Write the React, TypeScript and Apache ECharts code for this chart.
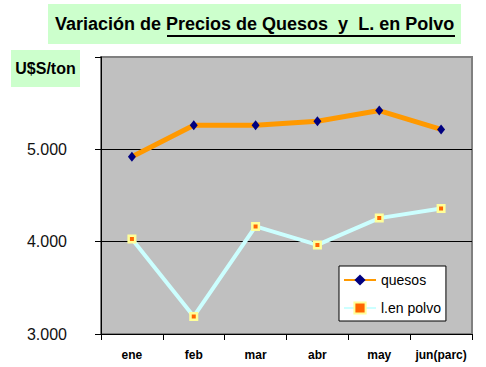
import React, { useEffect, useRef } from "react";
import * as echarts from "echarts";

const categories = ["ene", "feb", "mar", "abr", "may", "jun(parc)"];
const quesos = [4920, 5260, 5260, 5305, 5420, 5215];
const lenPolvo = [4030, 3190, 4165, 3965, 4255, 4360];
const yTicks = [3000, 4000, 5000, 6000];

export default function App() {
  const ref = useRef<HTMLDivElement>(null);
  useEffect(() => {
    const chart = echarts.init(ref.current!, null, { renderer: "svg" });
    const font = "Liberation Sans, Arial, sans-serif";
    chart.setOption({
      animation: false,
      backgroundColor: "#ffffff",
      textStyle: { fontFamily: font },
      grid: {
        left: 101,
        right: 14,
        top: 57,
        bottom: 33,
        show: true,
        backgroundColor: "#c0c0c0",
        borderColor: "#808080",
        borderWidth: 2,
      },
      graphic: [
        { type: "rect", shape: { x: 48, y: 4, width: 413, height: 40 }, style: { fill: "#ccffcc" }, z: 0 },
        {
          type: "text",
          x: 55,
          y: 24,
          style: {
            text: "Variación de Precios de Quesos  y  L. en Polvo",
            font: "bold 18px " + font,
            fill: "#000",
            textVerticalAlign: "middle",
          },
          z: 1,
        },
        { type: "line", shape: { x1: 167, y1: 36, x2: 455, y2: 36 }, style: { stroke: "#000", lineWidth: 2 }, z: 1 },
        { type: "rect", shape: { x: 11, y: 50, width: 69, height: 37 }, style: { fill: "#ccffcc" }, z: 0 },
        {
          type: "text",
          x: 45.5,
          y: 68,
          style: {
            text: "U$S/ton",
            font: "bold 16px " + font,
            fill: "#000",
            textAlign: "center",
            textVerticalAlign: "middle",
          },
          z: 1,
        },
      ],
      legend: {
        left: 339,
        top: 266,
        orient: "vertical",
        backgroundColor: "#ffffff",
        borderColor: "#000",
        borderWidth: 1,
        borderRadius: 0,
        padding: [7, 5, 6, 4],
        itemWidth: 32,
        itemHeight: 14,
        itemGap: 14,
        textStyle: { fontSize: 14, color: "#000", fontFamily: font },
        data: ["quesos", "l.en polvo"],
      },
      xAxis: {
        type: "category",
        data: categories,
        boundaryGap: true,
        axisLine: { lineStyle: { color: "#000", width: 1 } },
        axisTick: { show: true, length: 6, lineStyle: { color: "#000" } },
        axisLabel: { interval: 0, fontSize: 12, fontWeight: "bold", color: "#000", margin: 15 },
      },
      yAxis: {
        type: "value",
        min: yTicks[0],
        max: yTicks[yTicks.length - 1],
        interval: 1000,
        axisLine: { show: true, lineStyle: { color: "#000", width: 1 } },
        axisTick: { show: true, length: 6, lineStyle: { color: "#000" } },
        axisLabel: {
          fontSize: 16,
          color: "#111",
          margin: 34,
          formatter: (v: number) => (v === 6000 ? "" : `${v / 1000}.000`),
        },
        splitLine: {
          show: true,
          lineStyle: { color: ["#000", "#000", "#000", "transparent"], width: 1 },
        },
      },
      series: [
        {
          name: "quesos",
          type: "line",
          data: quesos,
          symbol: "diamond",
          symbolSize: [8, 10],
          lineStyle: { color: "#ff9900", width: 5 },
          itemStyle: { color: "#000080" },
          z: 3,
        },
        {
          name: "l.en polvo",
          type: "line",
          data: lenPolvo,
          symbol: "rect",
          symbolSize: 6.5,
          lineStyle: { color: "#ccffff", width: 4 },
          itemStyle: { color: "#ff6600", borderColor: "#ffff99", borderWidth: 2.5 },
          z: 3,
        },
      ],
    });
    return () => chart.dispose();
  }, []);
  return (
    <div
      ref={ref}
      style={{ position: "fixed", left: 0, top: 0, width: 486, height: 367 }}
    />
  );
}
